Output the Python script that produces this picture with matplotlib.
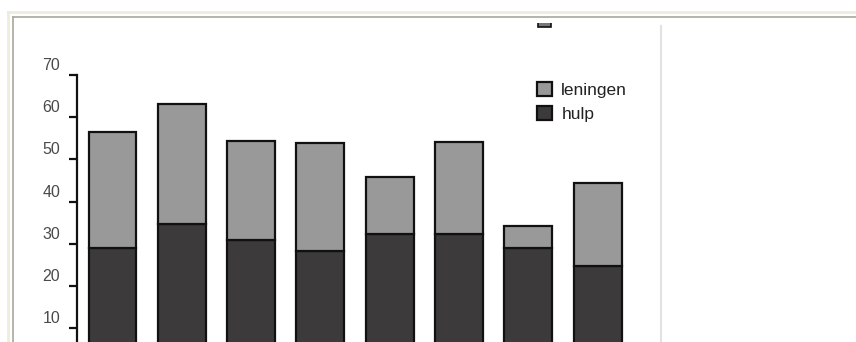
import numpy as np
import matplotlib.pyplot as plt
from matplotlib.patches import Rectangle
from matplotlib.lines import Line2D
from matplotlib.transforms import ScaledTranslation

plt.rcParams['font.family'] = ['Liberation Sans', 'DejaVu Sans']

# values (x axis labels are cut off in the reference)
hulp = [29.0, 34.7, 30.9, 28.4, 32.3, 32.3, 28.9, 24.8]
leningen = [27.5, 28.4, 23.5, 25.4, 13.6, 21.9, 5.3, 19.5]
yticks = [10, 20, 30, 40, 50, 60, 70]

W, H = 856, 342
fig = plt.figure(figsize=(W / 100, H / 100), dpi=100)

# window frame lines (figure pixel coords)
def hline(y, x0, x1, color, lw=1.5):
    fig.add_artist(Line2D([x0 / W, x1 / W], [1 - y / H, 1 - y / H], color=color, lw=lw))

def vline(x, y0, y1, color, lw=1.5):
    fig.add_artist(Line2D([x / W, x / W], [1 - y0 / H, 1 - y1 / H], color=color, lw=lw))

hline(12, 8, W, '#eeecdc', 2.0)
vline(8, 12, H, '#eeecdc', 2.0)
hline(17, 13, W, '#a8a8a0', 1.2)
vline(13, 17, H, '#a8a8a0', 1.2)
vline(661, 26, H, '#e2e2e2', 1.5)

# axes: y=70 at 75px, y=0 at 370px (below the picture edge)
y70, y0 = 75, 370.4
left, right = 76.7, 661
ax = fig.add_axes([left / W, 1 - y0 / H, (right - left) / W, (y0 - y70) / H])

x = np.arange(len(hulp))
pitch = 69.3
ax.set_xlim(-(112.5 - left) / pitch, -(112.5 - left) / pitch + (right - left) / pitch)
ax.set_ylim(0, 70)

dark = '#3c3a3a'
light = '#999999'
b1 = ax.bar(x, hulp, width=0.69, color=dark, edgecolor='#111111', linewidth=1.6, label='hulp')
b2 = ax.bar(x, leningen, bottom=hulp, width=0.69, color=light, edgecolor='#111111',
            linewidth=1.6, label='leningen')

for s in ['top', 'right', 'bottom']:
    ax.spines[s].set_visible(False)
ax.spines['left'].set_linewidth(1.6)
ax.spines['left'].set_color('#111111')
ax.set_xticks([])
ax.set_yticks(yticks)
ax.tick_params(axis='y', length=6, width=1.6, color='#111111', labelsize=11.5,
               labelcolor='#4a4a4a', pad=6)
# labels sit a bit above their ticks in the original
off = ScaledTranslation(0, 11 / 100, fig.dpi_scale_trans)
for lab in ax.get_yticklabels():
    lab.set_transform(lab.get_transform() + off)

ax.legend([b2, b1], ['leningen', 'hulp'], loc='upper left', frameon=False,
          bbox_to_anchor=(537 / W, 1 - 82 / H), bbox_transform=fig.transFigure,
          fontsize=12.5, handlelength=0.85, handleheight=0.85, handletextpad=0.55,
          labelspacing=0.45, borderpad=0, borderaxespad=0, labelcolor='#222222')

# top legend entry is cut off by the frame
p = Rectangle((538 / W, 1 - 27 / H), 13 / W, 12 / H, transform=fig.transFigure,
              facecolor='#777777', edgecolor='#111111', lw=1.2)
fig.add_artist(p)
p.set_clip_path(Rectangle((0, 0), 1, 1 - 23 / H, transform=fig.transFigure))

fig.savefig('out.png', dpi=100, facecolor='white')
